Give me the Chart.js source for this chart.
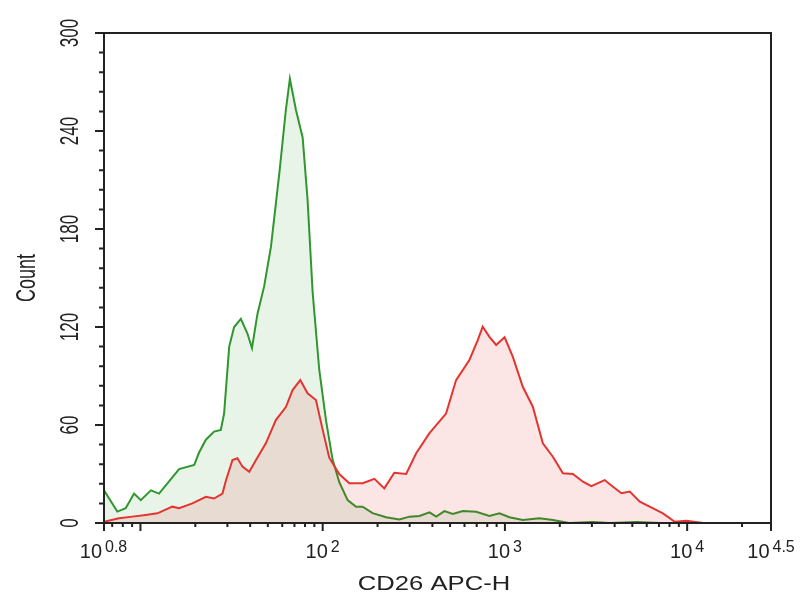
<!DOCTYPE html>
<html>
<head>
<meta charset="utf-8">
<script src="https://cdn.jsdelivr.net/npm/chart.js@4.4.1/dist/chart.umd.min.js"></script>
<style>
    html, body { margin: 0; padding: 0; background: #fff; }
    #histChart { display: block; }
</style>
</head>
<body>
<canvas id="histChart" width="804" height="600"></canvas>
<script>
// Axis range (log10 of intensity for x, counts for y)
const xLogMin = 0.8;
const xLogMax = 4.46;
const yMin = 0;
const yMax = 300;
const yMajorStep = 60;
const yMinorStep = 12;

// Tick labels on the x axis: base 10 with these exponents
const xTickExp = ['0.8', '2', '3', '4', '4.5'];
const xTickLog = [0.8, 2, 3, 4, 4.46];

// Green histogram (control), x as log10 intensity
const greenLog = [0.80, 0.873, 0.919, 0.965, 1.002, 1.057, 1.102, 1.175, 1.212, 1.295, 1.321, 1.359, 1.404, 1.441, 1.459, 1.487, 1.514, 1.551, 1.587, 1.612, 1.642, 1.679, 1.716, 1.762, 1.798, 1.820, 1.853, 1.890, 1.917, 1.945, 1.981, 2.018, 2.054, 2.091, 2.137, 2.183, 2.219, 2.274, 2.348, 2.421, 2.476, 2.531, 2.586, 2.623, 2.668, 2.714, 2.769, 2.842, 2.915, 2.970, 3.025, 3.098, 3.190, 3.263, 3.353, 3.481, 3.574, 3.723, 3.849];
const greenCount = [20, 7, 9, 18, 14, 20, 18, 28, 33, 35.5, 43, 51, 56, 57, 67, 108, 120, 125, 116, 107, 128, 145, 169, 214, 253, 272, 253, 236, 198, 141, 94, 63, 39, 25, 14, 10, 10, 6, 3.5, 2.2, 3.9, 4.3, 6.5, 3.9, 7.3, 5.5, 7.3, 6.9, 4.3, 5.9, 3.5, 1.8, 2.9, 1.8, 0, 0.6, 0, 0.6, 0];

// Red histogram (CD26 stained)
const redLog = [0.80, 0.882, 0.956, 1.029, 1.093, 1.175, 1.212, 1.285, 1.359, 1.404, 1.450, 1.469, 1.505, 1.532, 1.560, 1.597, 1.634, 1.688, 1.743, 1.798, 1.835, 1.877, 1.917, 1.963, 2.000, 2.036, 2.091, 2.146, 2.219, 2.284, 2.338, 2.393, 2.458, 2.513, 2.586, 2.677, 2.732, 2.805, 2.851, 2.878, 2.915, 2.952, 2.998, 3.043, 3.098, 3.153, 3.208, 3.263, 3.318, 3.373, 3.428, 3.474, 3.547, 3.593, 3.639, 3.685, 3.740, 3.813, 3.867, 3.932, 3.996, 4.087];
const redCount = [0.8, 2.9, 3.9, 4.9, 5.9, 10, 9, 12, 16, 15, 18, 26, 38.6, 39.6, 34.5, 31.4, 38.6, 48.8, 63, 71, 81.4, 87.5, 79.4, 75.3, 57, 40, 30, 24.3, 24.3, 27, 21.2, 30.8, 30, 42.7, 55, 67, 87.5, 99.8, 112, 120.2, 114, 109, 113.7, 101.8, 83.4, 71.2, 48.8, 40.6, 30.4, 30, 25.3, 22.6, 26.3, 22.2, 18.2, 19.2, 13, 9, 5.9, 0.8, 1.4, 0];

const xTitle = 'CD26 APC-H';
const yTitle = 'Count';

document.addEventListener('DOMContentLoaded', function() {
    const FONT = '"Liberation Sans", Arial, sans-serif';
    const INK = '#222';

    function toPoints(logs, counts) {
        return logs.map((e, i) => ({ x: Math.pow(10, e), y: counts[i] }));
    }

    // text rotated to read bottom-to-top, glyphs stretched across the line
    function drawRotated(ctx, text, xBase, yCenter, size, stretch) {
        ctx.save();
        ctx.translate(xBase, yCenter);
        ctx.rotate(-Math.PI / 2);
        ctx.scale(1, stretch);
        ctx.font = size + 'px ' + FONT;
        ctx.textAlign = 'center';
        ctx.textBaseline = 'alphabetic';
        ctx.fillText(text, 0, 0);
        ctx.restore();
    }

    function drawPower(ctx, px, exp, first) {
        ctx.font = '20px ' + FONT;
        const wBase = ctx.measureText('10').width;
        ctx.font = '16px ' + FONT;
        const wExp = ctx.measureText(exp).width;
        const gap = 3;
        let left = px - (wBase + gap + wExp) / 2;
        if (first) left = px - wBase - 2;
        ctx.textAlign = 'left';
        ctx.textBaseline = 'alphabetic';
        ctx.font = '20px ' + FONT;
        ctx.fillText('10', left, 558);
        ctx.font = '16px ' + FONT;
        ctx.fillText(exp, left + wBase + gap, 551.5);
    }

    const axesPlugin = {
        id: 'flowAxes',
        afterDraw(chart) {
            const ctx = chart.ctx;
            const area = chart.chartArea;
            const xs = chart.scales.x;
            const ys = chart.scales.y;
            ctx.save();
            ctx.strokeStyle = INK;
            ctx.fillStyle = INK;
            ctx.lineWidth = 2;
            ctx.strokeRect(area.left, area.top, area.right - area.left, area.bottom - area.top);

            // y ticks
            ctx.beginPath();
            for (let v = yMin; v <= yMax; v += yMinorStep) {
                const py = ys.getPixelForValue(v);
                const len = v % yMajorStep === 0 ? 9 : 5;
                ctx.moveTo(area.left - len, py);
                ctx.lineTo(area.left, py);
            }
            ctx.stroke();
            for (let v = yMin; v <= yMax; v += yMajorStep) {
                drawRotated(ctx, String(v), 78, ys.getPixelForValue(v), 17, 1.5);
            }

            // x ticks: majors at labelled positions and at 10, minors at 2..9 per decade
            const majors = xTickLog.map(e => Math.pow(10, e)).concat([10]);
            const minors = [];
            for (let d = 0; d <= 4; d++) {
                for (let m = 2; m <= 9; m++) {
                    const v = m * Math.pow(10, d);
                    if (v > Math.pow(10, xLogMin) && v < Math.pow(10, xLogMax)) minors.push(v);
                }
            }
            ctx.beginPath();
            majors.forEach(v => {
                const px = xs.getPixelForValue(v);
                ctx.moveTo(px, area.bottom);
                ctx.lineTo(px, area.bottom + 8);
            });
            minors.forEach(v => {
                const px = xs.getPixelForValue(v);
                ctx.moveTo(px, area.bottom);
                ctx.lineTo(px, area.bottom + 4);
            });
            ctx.stroke();
            xTickLog.forEach((e, i) => {
                drawPower(ctx, xs.getPixelForValue(Math.pow(10, e)), xTickExp[i], i === 0);
            });

            // axis titles
            ctx.save();
            ctx.translate(434, 590);
            ctx.scale(1.22, 1);
            ctx.font = '21px ' + FONT;
            ctx.textAlign = 'center';
            ctx.textBaseline = 'alphabetic';
            ctx.fillText(xTitle, 0, 0);
            ctx.restore();
            drawRotated(ctx, yTitle, 35, 278, 18, 1.5);
            ctx.restore();
        }
    };

    const ctx = document.getElementById('histChart').getContext('2d');
    new Chart(ctx, {
        type: 'line',
        data: {
            datasets: [{
                label: 'CD26',
                data: toPoints(redLog, redCount),
                borderColor: 'rgb(228, 52, 48)',
                backgroundColor: 'rgba(230, 0, 0, 0.1)',
                borderWidth: 2,
                fill: 'origin',
                tension: 0,
                pointRadius: 0
            }, {
                label: 'Control',
                data: toPoints(greenLog, greenCount),
                borderColor: 'rgb(48, 150, 48)',
                backgroundColor: 'rgba(0, 128, 0, 0.09)',
                borderWidth: 2,
                fill: 'origin',
                tension: 0,
                pointRadius: 0
            }]
        },
        options: {
            responsive: false,
            animation: false,
            layout: {
                padding: { left: 104, top: 33, right: 33, bottom: 77 }
            },
            scales: {
                x: {
                    type: 'logarithmic',
                    display: false,
                    min: Math.pow(10, xLogMin),
                    max: Math.pow(10, xLogMax)
                },
                y: {
                    type: 'linear',
                    display: false,
                    min: yMin,
                    max: yMax
                }
            },
            plugins: {
                legend: { display: false },
                tooltip: { enabled: false }
            }
        },
        plugins: [axesPlugin]
    });
});
</script>
</body>
</html>
